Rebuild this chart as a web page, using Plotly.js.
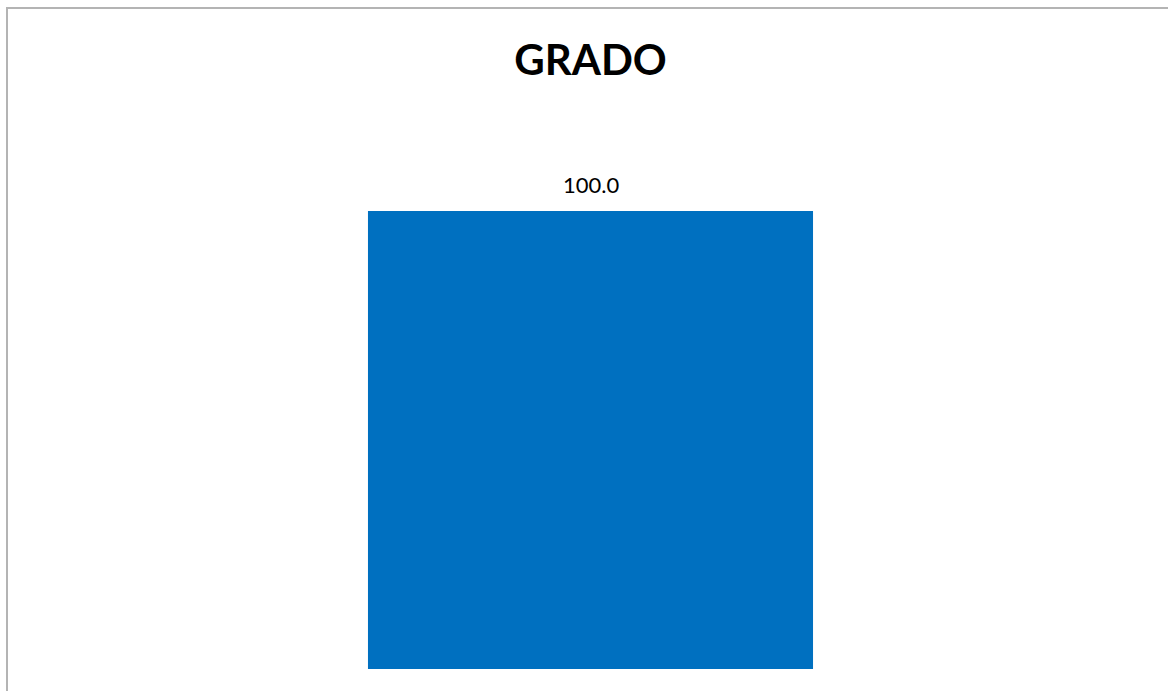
<!DOCTYPE html>
<html>
<head>
<meta charset="utf-8">
<script src="https://cdn.plot.ly/plotly-3.0.1.min.js"></script>
<style>
  html, body { margin: 0; padding: 0; background: #fff; overflow: hidden; }
  #myDiv { position: absolute; left: 6px; top: 7px; border-left: 2px solid #b4b4b4; border-top: 2px solid #b4b4b4; }
</style>
</head>
<body>
<div id="myDiv"></div>
<script>
var categories = ["GRADO"];
var values = [100.0];

var trace1 = {
  x: categories,
  y: values,
  type: 'bar',
  width: 0.386,
  marker: {color: '#0070C0'},
  hoverinfo: 'none'
};

var labels = categories.map(function (c, i) {
  return {
    x: c, y: values[i],
    text: values[i].toFixed(1),
    showarrow: false,
    yanchor: 'bottom',
    yshift: 11,
    font: {family: 'Lato, sans-serif', size: 22, color: '#000'}
  };
});

var layout = {
  width: 1160,
  height: 682,
  margin: {l: 6, r: 1, t: 202, b: 22},
  paper_bgcolor: '#fff',
  plot_bgcolor: '#fff',
  showlegend: false,
  title: {
    text: '<b>GRADO</b>',
    font: {family: 'Lato, sans-serif', size: 42, color: '#000'},
    xref: 'paper', x: 0.5,
    yref: 'container', y: 1 - 51 / 682, yanchor: 'middle'
  },
  xaxis: {visible: false, range: [-0.5, 0.5]},
  yaxis: {visible: false, range: [0, 100], fixedrange: true},
  annotations: labels
};

Plotly.newPlot('myDiv', [trace1], layout, {displayModeBar: false, staticPlot: true});
</script>
</body>
</html>
